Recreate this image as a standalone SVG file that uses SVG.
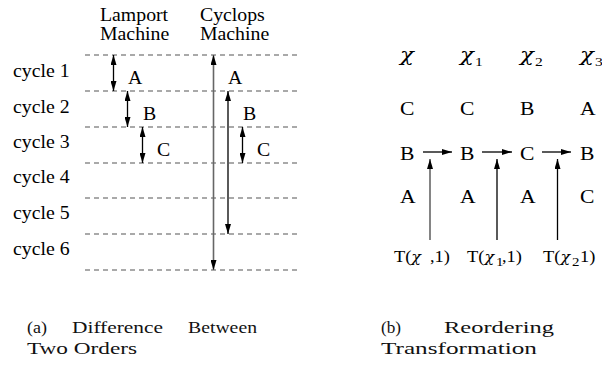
<svg xmlns="http://www.w3.org/2000/svg" width="602" height="379" viewBox="0 0 602 379">
<defs>
<style>
.t{font-family:"Liberation Serif","Times New Roman",serif;font-size:18px;fill:#000}
.chi{font-family:"DejaVu Serif","Liberation Serif",serif;font-size:19px;font-style:italic}
.s{font-family:"Liberation Serif","Times New Roman",serif;font-size:13px;font-style:normal}
.tl{font-family:"Liberation Serif","Times New Roman",serif;font-size:16px;fill:#000}
.tc{font-family:"DejaVu Serif","Liberation Serif",serif;font-size:14px;font-style:italic}
.ts{font-size:13px}
.cap{font-family:"Liberation Serif","Times New Roman",serif;font-size:17px;fill:#111}
.dash{stroke:#555;stroke-width:1.2;stroke-dasharray:5 4;fill:none}
.ab{stroke:#000;stroke-width:1.3;fill:none}
.ag{stroke:#666;stroke-width:1.6;fill:none}
</style>
<marker id="ah" viewBox="0 0 10 6" refX="10" refY="3" markerWidth="10" markerHeight="6" markerUnits="userSpaceOnUse" orient="auto-start-reverse"><path d="M0,0 L10,3 L0,6 z" fill="#000"/></marker>
</defs>
<rect width="602" height="379" fill="#fff"/>

<g id="left-labels" transform="scale(1.1 1)">
  <g id="hdr-lamport"><text class="t" x="90.9" y="21">Lamport</text><text class="t" x="90.9" y="40">Machine</text></g>
  <g id="hdr-cyclops"><text class="t" x="181.8" y="21">Cyclops</text><text class="t" x="181.8" y="40">Machine</text></g>
  <g id="cycles">
    <text class="t" x="11.8" y="77">cycle 1</text>
    <text class="t" x="11.8" y="113">cycle 2</text>
    <text class="t" x="11.8" y="148">cycle 3</text>
    <text class="t" x="11.8" y="183">cycle 4</text>
    <text class="t" x="11.8" y="219">cycle 5</text>
    <text class="t" x="11.8" y="255">cycle 6</text>
  </g>
  <g id="lamport-ops">
    <text class="t" x="116.4" y="84">A</text>
    <text class="t" x="130" y="120">B</text>
    <text class="t" x="142.7" y="156">C</text>
  </g>
  <g id="cyclops-ops">
    <text class="t" x="207.3" y="84">A</text>
    <text class="t" x="220.9" y="120">B</text>
    <text class="t" x="233.6" y="156">C</text>
  </g>
</g>

<g id="connectors">
  <g id="cycle-lines">
    <line class="dash" x1="85" y1="55" x2="298" y2="55"/>
    <line class="dash" x1="85" y1="91" x2="298" y2="91"/>
    <line class="dash" x1="85" y1="127" x2="298" y2="127"/>
    <line class="dash" x1="85" y1="163" x2="298" y2="163"/>
    <line class="dash" x1="85" y1="198" x2="298" y2="198"/>
    <line class="dash" x1="85" y1="234" x2="298" y2="234"/>
    <line class="dash" x1="85" y1="270" x2="298" y2="270"/>
  </g>
  <line class="ab" x1="113.5" y1="55" x2="113.5" y2="91" marker-start="url(#ah)" marker-end="url(#ah)"/>
  <line class="ab" x1="127.5" y1="91" x2="127.5" y2="127" marker-start="url(#ah)" marker-end="url(#ah)"/>
  <line class="ab" x1="142.5" y1="127" x2="142.5" y2="163" marker-start="url(#ah)" marker-end="url(#ah)"/>
  <line class="ag" x1="213.5" y1="55" x2="213.5" y2="270" marker-start="url(#ah)" marker-end="url(#ah)"/>
  <line class="ab" x1="228" y1="91" x2="228" y2="234" marker-start="url(#ah)" marker-end="url(#ah)"/>
  <line class="ab" x1="242.5" y1="127" x2="242.5" y2="163" marker-start="url(#ah)" marker-end="url(#ah)"/>
  <line class="ab" x1="423" y1="152" x2="452" y2="152" marker-end="url(#ah)"/>
  <line class="ab" x1="482" y1="152" x2="512" y2="152" marker-end="url(#ah)"/>
  <line class="ab" x1="542" y1="152" x2="571" y2="152" marker-end="url(#ah)"/>
  <line class="ag" x1="430" y1="240" x2="430" y2="159" marker-end="url(#ah)"/>
  <line class="ab" x1="497" y1="240" x2="497" y2="159" marker-end="url(#ah)"/>
  <line class="ab" x1="557.5" y1="240" x2="557.5" y2="159" marker-end="url(#ah)"/>
</g>

<g id="right-labels" transform="scale(1.2 1)">
  <g id="hdr-chi">
    <text class="t chi" x="333.3" y="61">χ</text>
    <text class="t chi" x="383.3" y="61">χ<tspan class="s" dx="1" dy="5">1</tspan></text>
    <text class="t chi" x="433.3" y="61">χ<tspan class="s" dx="1" dy="5">2</tspan></text>
    <text class="t chi" x="483.3" y="61">χ<tspan class="s" dx="1" dy="5">3</tspan></text>
  </g>
  <g id="row1">
    <text class="t" x="333.3" y="115">C</text>
    <text class="t" x="383.3" y="115">C</text>
    <text class="t" x="433.3" y="115">B</text>
    <text class="t" x="483.3" y="115">A</text>
  </g>
  <g id="row2">
    <text class="t" x="333.3" y="160">B</text>
    <text class="t" x="383.3" y="160">B</text>
    <text class="t" x="433.3" y="160">C</text>
    <text class="t" x="483.3" y="160">B</text>
  </g>
  <g id="row3">
    <text class="t" x="333.3" y="203">A</text>
    <text class="t" x="383.3" y="203">A</text>
    <text class="t" x="433.3" y="203">A</text>
    <text class="t" x="483.3" y="203">C</text>
  </g>
</g>

<g id="t-labels" transform="scale(1.15 1)">
  <text class="tl" y="262"><tspan x="342.6">T(</tspan><tspan class="tc">χ</tspan><tspan x="373.9">,1)</tspan></text>
  <text class="tl" y="262"><tspan x="406.1">T(</tspan><tspan class="tc">χ</tspan><tspan class="ts" x="431.3" y="266">1</tspan><tspan x="436.5" y="262">,1)</tspan></text>
  <text class="tl" y="262"><tspan x="472.2">T(</tspan><tspan class="tc">χ</tspan><tspan class="ts" x="497.4" y="266">2</tspan><tspan x="504.3" y="262">1)</tspan></text>
</g>

<g id="captions">
  <text class="cap" x="27" y="333" textLength="20" lengthAdjust="spacingAndGlyphs">(a)</text>
  <text class="cap" x="72" y="333" textLength="91" lengthAdjust="spacingAndGlyphs">Difference</text>
  <text class="cap" x="188" y="333" textLength="69" lengthAdjust="spacingAndGlyphs">Between</text>
  <text class="cap" x="27" y="354" textLength="110" lengthAdjust="spacingAndGlyphs">Two Orders</text>
  <text class="cap" x="381" y="333" textLength="20" lengthAdjust="spacingAndGlyphs">(b)</text>
  <text class="cap" x="444" y="333" textLength="110" lengthAdjust="spacingAndGlyphs">Reordering</text>
  <text class="cap" x="381" y="354" textLength="156" lengthAdjust="spacingAndGlyphs">Transformation</text>
</g>
</svg>
